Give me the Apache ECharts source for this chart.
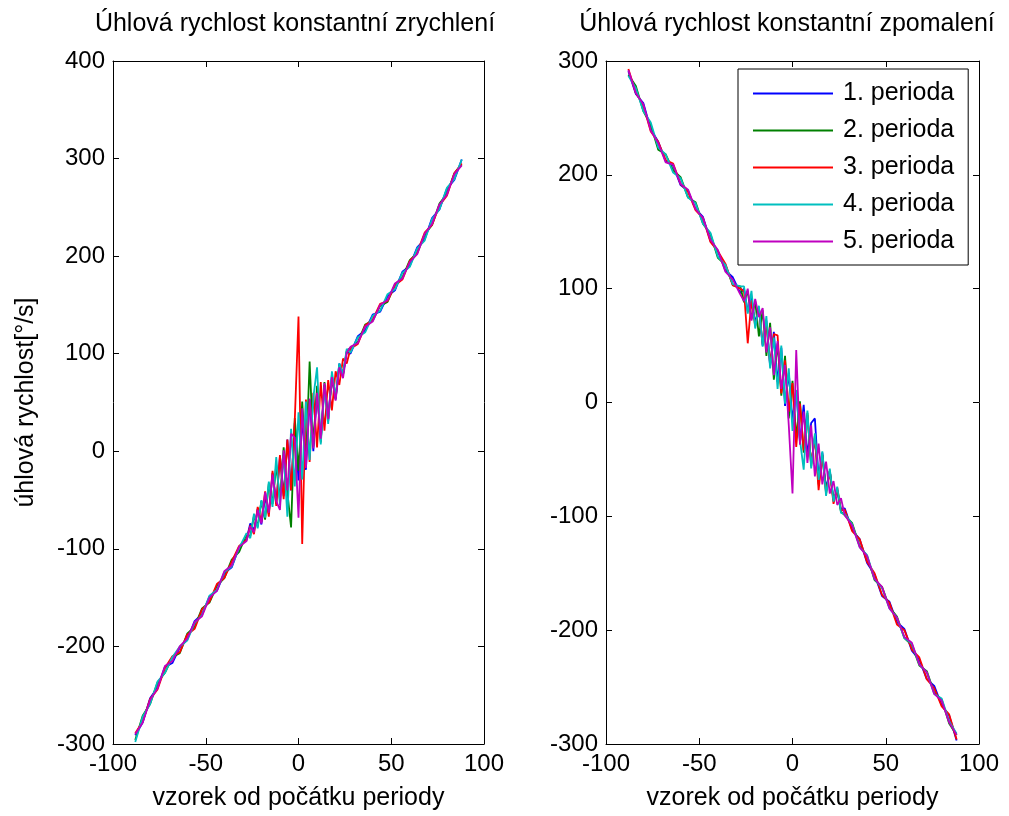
<!DOCTYPE html>
<html>
<head>
<meta charset="utf-8">
<script src="https://cdn.jsdelivr.net/npm/echarts@6/dist/echarts.min.js"></script>
<style>
  html, body { margin: 0; padding: 0; background: #fff; }
  #chart { width: 1009px; height: 816px; }
</style>
</head>
<body>
<div id="chart"></div>
<script>
// Sample index relative to the start of each period
const sampleX = [-88,-84,-80,-76,-72,-68,-64,-60,-56,-52,-48,-44,-40,-36,-32,-28,
  -26,-24,-22,-20,-18,-16,-14,-12,-10,-8,-6,-4,-2,0,2,4,6,8,10,12,14,16,18,20,22,24,26,
  28,32,36,40,44,48,52,56,60,64,68,72,76,80,84,88];

// Angular velocity [deg/s], constant acceleration, periods 1-5
const accelP1 = [-291,-278,-253,-242,-221,-217,-201,-193,-174,-167,-149,-143,-125,-119,-98,-90,
  -74,-81,-59,-75,-47,-64,-22,-54,-5,-46,12,-40,29,-30,34,-19,53,0,62,11,68,33,78,53,90,79,102,
  100,118,124,140,143,159,165,184,190,209,217,239,248,269,278,299];
const accelP2 = [-296,-271,-259,-237,-227,-211,-207,-187,-180,-161,-155,-138,-130,-111,-103,-85,
  -87,-66,-77,-51,-70,-33,-54,-14,-50,4,-42,-78,34,-20,51,-12,92,5,67,9,71,31,75,54,88,78,103,
  106,112,130,134,149,153,171,178,196,203,222,232,254,264,285,294];
const accelP3 = [-289,-277,-254,-244,-222,-210,-206,-188,-182,-162,-154,-136,-130,-113,-97,-91,
  -76,-85,-57,-72,-41,-67,-20,-56,-4,-49,12,-40,32,138,-95,53,-11,60,4,71,21,73,42,82,68,95,90,
  105,110,129,135,151,154,170,176,195,204,224,232,252,262,285,295];
const accelP4 = [-298,-272,-259,-236,-227,-211,-200,-194,-176,-168,-148,-142,-124,-118,-99,-84,
  -89,-64,-79,-50,-68,-31,-57,-6,-55,-2,-67,23,-36,40,-29,51,-9,55,86,7,66,28,82,56,90,79,105,
  101,117,122,139,144,161,166,183,189,208,216,238,248,270,279,299];
const accelP5 = [-290,-278,-255,-243,-220,-215,-200,-192,-175,-169,-150,-143,-123,-117,-98,-92,
  -77,-83,-60,-74,-42,-63,-24,-51,-60,1,-40,18,14,-68,44,-17,54,3,60,13,70,33,76,52,86,75,101,
  107,111,128,133,150,155,172,177,194,202,223,233,253,263,284,293];

// Angular velocity [deg/s], constant deceleration, periods 1-5
const decelP1 = [291,271,263,240,229,212,208,191,186,170,163,142,133,116,110,96,
  100,80,92,70,83,50,72,32,62,18,48,-3,26,-16,11,-35,-2,-47,-18,-14,-67,-44,-76,-60,-85,-77,-94,
  -93,-112,-120,-141,-151,-170,-175,-193,-199,-218,-226,-243,-249,-266,-275,-297];
const decelP2 = [288,278,256,244,222,218,204,198,180,176,157,148,127,121,103,102,
  88,98,73,89,58,81,41,70,20,52,6,41,-14,19,-31,1,-44,-9,-56,-29,-72,-46,-78,-60,-86,-77,-96,
  -99,-106,-126,-135,-156,-162,-180,-188,-207,-213,-231,-236,-255,-261,-282,-292];
const decelP3 = [293,272,261,238,229,213,210,192,185,169,162,141,133,122,103,100,
  98,52,90,67,83,51,68,34,60,59,8,37,-8,17,-39,-1,-42,-11,-54,-31,-77,-46,-80,-60,-89,-75,-95,
  -94,-113,-120,-140,-150,-169,-176,-195,-200,-217,-224,-243,-251,-267,-274,-296];
const decelP4 = [287,276,256,246,224,218,202,197,180,175,157,149,128,121,104,102,
  102,78,98,65,85,49,76,30,57,12,50,-1,30,-25,11,-33,-59,-7,-58,-27,-68,-43,-82,-58,-87,-74,-97,
  -98,-107,-127,-134,-155,-163,-181,-189,-207,-212,-230,-237,-256,-260,-280,-291];
const decelP5 = [292,272,262,239,228,211,209,192,187,170,162,143,134,115,108,95,
  89,100,72,91,75,83,44,66,24,54,12,33,-20,-80,46,-37,-8,-53,-20,-65,-36,-72,-52,-80,-69,-90,-84,
  -99,-108,-127,-135,-155,-162,-181,-189,-206,-211,-230,-237,-256,-262,-281,-292];

const periodNames = ['1. perioda', '2. perioda', '3. perioda', '4. perioda', '5. perioda'];
const periodColors = ['#0000ff', '#008000', '#ff0000', '#00bfbf', '#bf00bf'];

const titleLeft = 'Úhlová rychlost konstantní zrychlení';
const titleRight = 'Úhlová rychlost konstantní zpomalení';
const xName = 'vzorek od počátku periody';
const yName = 'úhlová rychlost[°/s]';

const FONT = '"Liberation Sans", Arial, sans-serif';
const chart = echarts.init(document.getElementById('chart'));

function axisBase(extra) {
  return Object.assign({
    type: 'value',
    axisLine: { show: true, onZero: false, lineStyle: { color: '#000', width: 1 } },
    axisTick: { show: true, inside: true, length: 6, lineStyle: { color: '#000', width: 1 } },
    splitLine: { show: false },
    axisLabel: { show: true, color: '#000', fontSize: 24, fontFamily: FONT, margin: 8 }
  }, extra);
}

function xAxes(gridIndex) {
  return [
    axisBase({ gridIndex, position: 'bottom', min: -100, max: 100, interval: 50,
      name: xName, nameLocation: 'middle', nameGap: 42,
      nameTextStyle: { color: '#000', fontSize: 25, fontFamily: FONT } }),
    axisBase({ gridIndex, position: 'top', min: -100, max: 100, interval: 50,
      axisLabel: { show: false } })
  ];
}

function yAxes(gridIndex, min, max, withName) {
  const main = axisBase({ gridIndex, position: 'left', min, max, interval: 100 });
  if (withName) {
    Object.assign(main, {
      name: yName, nameLocation: 'middle', nameGap: 74,
      nameTextStyle: { color: '#000', fontSize: 25, fontFamily: FONT }
    });
  }
  return [main,
    axisBase({ gridIndex, position: 'right', min, max, interval: 100, axisLabel: { show: false } })];
}

function buildSeries(ys, idx, xAxisIndex, yAxisIndex) {
  return {
    type: 'line',
    name: periodNames[idx],
    xAxisIndex, yAxisIndex,
    data: sampleX.map((x, i) => [x, ys[i]]),
    symbol: 'none',
    showSymbol: false,
    lineStyle: { color: periodColors[idx], width: 1.8 },
    itemStyle: { color: periodColors[idx] },
    silent: true
  };
}

const accel = [accelP1, accelP2, accelP3, accelP4, accelP5];
const decel = [decelP1, decelP2, decelP3, decelP4, decelP5];

chart.setOption({
  animation: false,
  backgroundColor: '#fff',
  title: [
    { text: titleLeft, left: 295, top: 12, textAlign: 'center', padding: 0,
      textStyle: { color: '#000', fontSize: 25, fontWeight: 'normal', fontFamily: FONT } },
    { text: titleRight, left: 787, top: 12, textAlign: 'center', padding: 0,
      textStyle: { color: '#000', fontSize: 25, fontWeight: 'normal', fontFamily: FONT } }
  ],
  grid: [
    { left: 113, top: 61, width: 371, height: 683, containLabel: false },
    { left: 606, top: 61, width: 373, height: 683, containLabel: false }
  ],
  xAxis: [...xAxes(0), ...xAxes(1)],
  yAxis: [...yAxes(0, -300, 400, true), ...yAxes(1, -300, 300, false)],
  legend: {
    data: periodNames,
    orient: 'vertical',
    left: 738, top: 69,
    padding: [12, 14, 11, 15],
    icon: 'rect',
    itemWidth: 80, itemHeight: 2, itemGap: 12,
    backgroundColor: '#fff',
    borderColor: '#000', borderWidth: 1, borderRadius: 0,
    selectedMode: false,
    textStyle: { color: '#000', fontSize: 25, fontFamily: FONT, lineHeight: 25, padding: [0, 0, 0, 5] }
  },
  series: [
    ...accel.map((ys, i) => buildSeries(ys, i, 0, 0)),
    ...decel.map((ys, i) => buildSeries(ys, i, 2, 2))
  ]
});
</script>
</body>
</html>
